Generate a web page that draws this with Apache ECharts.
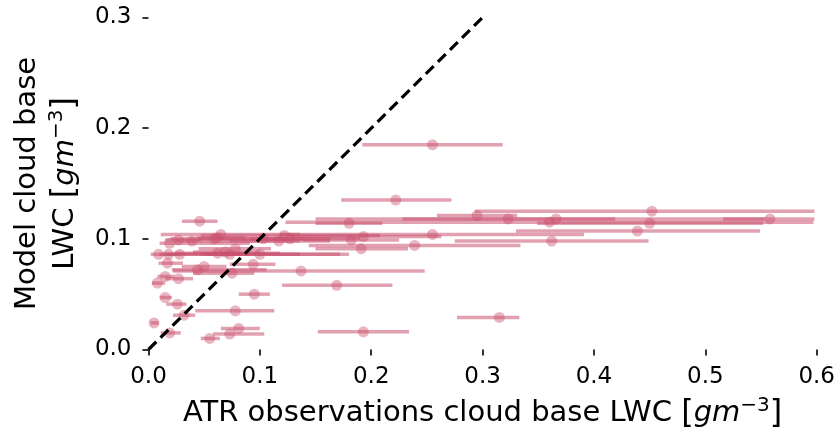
<!DOCTYPE html>
<html>
<head>
<meta charset="utf-8">
<script src="https://cdn.jsdelivr.net/npm/echarts@6/dist/echarts.min.js"></script>
<style>
  html, body { margin: 0; padding: 0; background: #fff; }
  #chart { width: 838px; height: 438px; }
</style>
</head>
<body>
<div id="chart"></div>
<script>
// ATR observed cloud-base LWC (g m^-3) with its min/max spread, against the model value
const obsLwc = [0.255, 0.222, 0.452, 0.295, 0.323, 0.366, 0.360, 0.450, 0.558, 0.439,
  0.362, 0.255, 0.239, 0.191, 0.193, 0.182, 0.180, 0.127, 0.169, 0.137,
  0.315, 0.193, 0.046, 0.065, 0.062, 0.103, 0.122, 0.117, 0.019, 0.027,
  0.039, 0.059, 0.009, 0.018, 0.028, 0.062, 0.069, 0.073, 0.078, 0.100,
  0.094, 0.017, 0.044, 0.050, 0.015, 0.027, 0.008, 0.075, 0.015, 0.026,
  0.032, 0.095, 0.078, 0.005, 0.019, 0.055, 0.073, 0.081];
const obsLow = [0.192, 0.173, 0.293, 0.259, 0.228, 0.150, 0.123, 0.349, 0.516, 0.330,
  0.275, 0.118, 0.144, 0.150, 0.127, 0.139, 0.150, 0.091, 0.120, 0.022,
  0.277, 0.152, 0.030, 0.011, 0.043, 0.020, 0.047, 0.073, 0.010, 0.015,
  0.024, 0.045, 0.002, 0.010, 0.015, 0.024, 0.040, 0.050, 0.045, 0.047,
  0.073, 0.009, 0.021, 0.030, 0.008, 0.015, 0.003, 0.040, 0.010, 0.016,
  0.022, 0.081, 0.042, 0.002, 0.011, 0.047, 0.058, 0.065];
const obsHigh = [0.318, 0.272, 0.598, 0.331, 0.419, 0.553, 0.597, 0.552, 0.598, 0.549,
  0.449, 0.391, 0.334, 0.233, 0.263, 0.225, 0.210, 0.163, 0.219, 0.248,
  0.333, 0.234, 0.062, 0.136, 0.087, 0.190, 0.208, 0.163, 0.091, 0.047,
  0.136, 0.140, 0.028, 0.091, 0.136, 0.118, 0.100, 0.180, 0.110, 0.172,
  0.114, 0.031, 0.106, 0.070, 0.023, 0.040, 0.015, 0.095, 0.021, 0.034,
  0.042, 0.109, 0.113, 0.009, 0.029, 0.064, 0.104, 0.100];
const modelLwc = [0.185, 0.135, 0.125, 0.121, 0.118, 0.118, 0.115, 0.114, 0.118, 0.107,
  0.098, 0.104, 0.094, 0.091, 0.102, 0.099, 0.114, 0.100, 0.058, 0.071,
  0.029, 0.016, 0.116, 0.104, 0.101, 0.100, 0.103, 0.098, 0.096, 0.099,
  0.098, 0.100, 0.086, 0.086, 0.086, 0.087, 0.088, 0.086, 0.091, 0.086,
  0.077, 0.078, 0.072, 0.075, 0.066, 0.064, 0.060, 0.069, 0.047, 0.041,
  0.031, 0.050, 0.035, 0.024, 0.015, 0.010, 0.014, 0.019];

// one-to-one reference line
const oneToOne = [[0, 0], [0.3, 0.3]];
const xTicks = [0, 0.6, 0.1];
const yTicks = [0, 0.3, 0.1];

const markColor = 'rgba(202, 82, 110, 0.54)';
const font = 'DejaVu Sans';

const points = obsLwc.map((x, i) => [x, modelLwc[i]]);
const spreads = obsLwc.map((x, i) => [obsLow[i], obsHigh[i], modelLwc[i]]);

const unitRich = {
  t: { fontFamily: font, fontSize: 29, color: '#000' },
  br: { fontFamily: font, fontSize: 32, color: '#000' },
  it: { fontFamily: font, fontSize: 29, fontStyle: 'italic', color: '#000' },
  sup: { fontFamily: font, fontSize: 20, color: '#000', padding: [0, 0, 16, 0] }
};

const chart = echarts.init(document.getElementById('chart'), null, { renderer: 'canvas' });
chart.setOption({
  animation: false,
  backgroundColor: '#fff',
  grid: { left: 148, right: 19, top: 17.5, bottom: 88.5, containLabel: false },
  xAxis: {
    type: 'value',
    min: xTicks[0], max: xTicks[1], interval: xTicks[2],
    axisLine: { show: false },
    splitLine: { show: false },
    axisTick: { show: true, length: 6, lineStyle: { color: '#000', width: 1.6 } },
    axisLabel: { fontFamily: font, fontSize: 23, color: '#000', margin: 16,
      formatter: v => v.toFixed(1) },
    name: '{t|ATR observations cloud base LWC }{br|[}{it|gm}{sup|−3}{br|]}',
    nameLocation: 'middle',
    nameGap: 46,
    nameTextStyle: { rich: unitRich }
  },
  yAxis: {
    type: 'value',
    min: yTicks[0], max: yTicks[1], interval: yTicks[2],
    axisLine: { show: false },
    splitLine: { show: false },
    axisTick: { show: true, length: 6, lineStyle: { color: '#000', width: 1.6 } },
    axisLabel: { fontFamily: font, fontSize: 23, color: '#000', margin: 17,
      formatter: v => v.toFixed(1) },
    name: '{t|Model cloud base}\n{t|LWC }{br|[}{it|gm}{sup|−3}{br|]}',
    nameLocation: 'middle',
    nameRotate: 90,
    nameGap: 62,
    nameTextStyle: { rich: unitRich, align: 'center', lineHeight: 38 }
  },
  series: [
    {
      type: 'custom',
      name: 'spread',
      data: spreads,
      renderItem: (params, api) => {
        const a = api.coord([api.value(0), api.value(2)]);
        const b = api.coord([api.value(1), api.value(2)]);
        return {
          type: 'line',
          shape: { x1: a[0], y1: a[1], x2: b[0], y2: b[1] },
          style: { stroke: markColor, lineWidth: 3.5, lineCap: 'butt' }
        };
      },
      z: 2
    },
    {
      type: 'scatter',
      name: 'points',
      data: points,
      symbolSize: 11,
      itemStyle: { color: markColor },
      z: 3
    },
    {
      type: 'line',
      name: '1:1',
      data: oneToOne,
      symbol: 'none',
      lineStyle: { color: '#000', width: 3.2, type: [11, 6] },
      z: 4
    }
  ]
});
</script>
</body>
</html>
